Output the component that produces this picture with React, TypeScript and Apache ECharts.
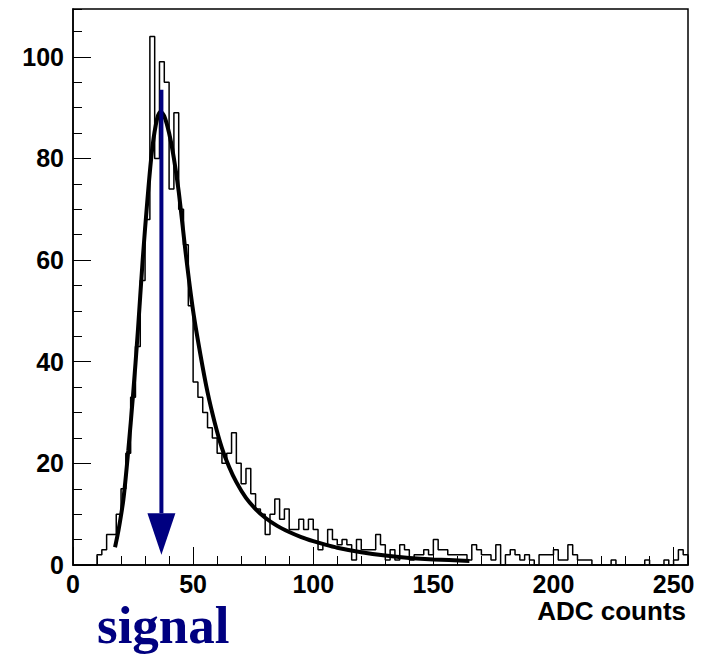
import React, { useEffect, useRef } from "react";
import * as echarts from "echarts";

// ---- data ----
const binWidth = 2; // ADC counts per bin, 128 bins over 0..256
const counts = [
  0, 0, 0, 0, 0, 2, 3, 6, 6, 10,
  15, 22, 33, 43, 56, 68, 104, 80, 99, 95,
  74, 89, 70, 63, 51, 36, 33, 30, 27, 25,
  22, 20, 22, 26, 20, 16, 19, 14, 11, 10,
  6, 10, 13, 9, 11, 7, 7, 9, 7, 9,
  7, 3, 4, 7, 5, 4, 5, 4, 1, 5,
  3, 3, 3, 6, 4, 1, 3, 1, 4, 3,
  1, 2, 2, 3, 2, 5, 3, 3, 2, 2,
  2, 2, 1, 4, 3, 2, 2, 1, 4, 0,
  2, 3, 2, 1, 2, 1, 0, 2, 2, 2,
  3, 1, 1, 4, 2, 1, 1, 1, 0, 0,
  0, 0, 1, 0, 0, 0, 0, 0, 0, 1,
  0, 0, 0, 1, 0, 1, 3, 2,
];

const fitX = [17.5, 19, 21, 23, 25, 27, 29, 31, 33, 35, 36.5, 38, 40, 42, 44, 47, 50, 53, 56, 59, 62, 65, 68, 72, 76, 80, 85, 90, 95, 100, 105, 110, 120, 130, 140, 150, 165];
const fitY = [3.5, 7, 13, 22.5, 33.5, 46, 60, 72, 82, 87.8, 89.2, 88.3, 85, 80, 73.5, 61, 50, 41.5, 34, 28, 23, 19.3, 16.3, 13.2, 11, 9.3, 7.7, 6.5, 5.5, 4.7, 4.0, 3.4, 2.5, 1.85, 1.4, 1.1, 0.8];

const xMin = 0;
const xMax = 256;
const xMajorStep = 50;
const xMinorStep = 10;
const yMin = 0;
const yMax = 109.4;
const yMajorStep = 20;
const yMinorStep = 5;

// arrow marking the signal peak: [x, top, tip, head base]
const arrowX = [36.8];
const arrowTop = [93.5];
const arrowTip = [2];
const arrowHeadBase = [10.2];

const xTitle = "ADC counts";
const annotation = "signal";

export default function App() {
  const ref = useRef<HTMLDivElement>(null);

  useEffect(() => {
    if (!ref.current) return;
    const chart = echarts.init(ref.current, null, { renderer: "svg" });

    const histData: number[][] = counts.map((c, i) => [i * binWidth, c]);
    histData.push([counts.length * binWidth, counts[counts.length - 1]]);
    histData.push([counts.length * binWidth, 0]);

    const fitData = fitX.map((x, i) => [x, fitY[i]]);
    const arrowData = arrowX.map((x, i) => [x, arrowTop[i], arrowTip[i], arrowHeadBase[i]]);

    const labelStyle = {
      fontFamily: "Liberation Sans, Arial, sans-serif",
      fontWeight: "bold" as const,
      fontSize: 25,
      lineHeight: 24,
      color: "#000",
    };

    chart.setOption({
      animation: false,
      backgroundColor: "#fff",
      grid: {
        left: 73,
        right: 23,
        top: 9,
        bottom: 90,
        show: true,
        borderColor: "#000",
        borderWidth: 1.5,
        backgroundColor: "transparent",
      },
      xAxis: [
        {
          type: "value",
          min: xMin,
          max: xMax,
          interval: xMinorStep,
          position: "bottom",
          axisLine: { show: true, onZero: false, lineStyle: { color: "#000", width: 1.5 } },
          axisTick: { show: true, inside: true, length: 9, lineStyle: { color: "#000", width: 1 } },
          axisLabel: { show: false },
          splitLine: { show: false },
        },
        {
          type: "value",
          min: xMin,
          max: xMax,
          interval: xMajorStep,
          position: "bottom",
          axisLine: { show: false, onZero: false },
          axisTick: { show: true, inside: true, length: 18, lineStyle: { color: "#000", width: 1 } },
          axisLabel: { show: true, margin: 7, showMaxLabel: false, ...labelStyle },
          splitLine: { show: false },
        },
      ],
      yAxis: [
        {
          type: "value",
          min: yMin,
          max: yMax,
          interval: yMinorStep,
          position: "left",
          axisLine: { show: true, onZero: false, lineStyle: { color: "#000", width: 1.5 } },
          axisTick: { show: true, inside: true, length: 9, lineStyle: { color: "#000", width: 1 } },
          axisLabel: { show: false },
          splitLine: { show: false },
        },
        {
          type: "value",
          min: yMin,
          max: yMax,
          interval: yMajorStep,
          position: "left",
          axisLine: { show: false, onZero: false },
          axisTick: { show: true, inside: true, length: 18, lineStyle: { color: "#000", width: 1 } },
          axisLabel: { show: true, margin: 9, showMaxLabel: false, ...labelStyle },
          splitLine: { show: false },
        },
      ],
      series: [
        {
          type: "line",
          name: "histogram",
          xAxisIndex: 0,
          yAxisIndex: 0,
          data: histData,
          step: "end",
          symbol: "none",
          lineStyle: { color: "#000", width: 1.5 },
          z: 2,
        },
        {
          type: "line",
          name: "fit",
          xAxisIndex: 0,
          yAxisIndex: 0,
          data: fitData,
          smooth: 0.3,
          symbol: "none",
          lineStyle: { color: "#000", width: 4 },
          z: 3,
        },
        {
          type: "custom",
          name: "arrow",
          xAxisIndex: 0,
          yAxisIndex: 0,
          data: arrowData,
          z: 4,
          renderItem: (params: any, api: any) => {
            const top = api.coord([api.value(0), api.value(1)]);
            const tip = api.coord([api.value(0), api.value(2)]);
            const base = api.coord([api.value(0), api.value(3)]);
            return {
              type: "group",
              children: [
                {
                  type: "line",
                  shape: { x1: top[0], y1: top[1], x2: base[0], y2: base[1] },
                  style: { stroke: "#000080", lineWidth: 4 },
                },
                {
                  type: "polygon",
                  shape: {
                    points: [
                      [base[0] - 14, base[1]],
                      [base[0] + 14, base[1]],
                      [tip[0], tip[1]],
                    ],
                  },
                  style: { fill: "#000080" },
                },
              ],
            };
          },
        },
      ],
      graphic: [
        {
          type: "text",
          x: 686,
          y: 611,
          style: {
            text: xTitle,
            textAlign: "right",
            textVerticalAlign: "middle",
            fontFamily: "Liberation Sans, Arial, sans-serif",
            fontWeight: "bold",
            fontSize: 26,
            lineHeight: 24,
            fill: "#000",
          },
        },
        {
          type: "text",
          x: 97,
          y: 625,
          style: {
            text: annotation,
            textAlign: "left",
            textVerticalAlign: "middle",
            fontFamily: "Liberation Serif, Times New Roman, serif",
            fontWeight: "bold",
            fontSize: 53,
            lineHeight: 50,
            fill: "#000080",
          },
        },
      ],
    });

    return () => chart.dispose();
  }, []);

  return (
    <div
      ref={ref}
      style={{ position: "fixed", left: 0, top: 0, width: 711, height: 655, background: "#fff" }}
    />
  );
}
